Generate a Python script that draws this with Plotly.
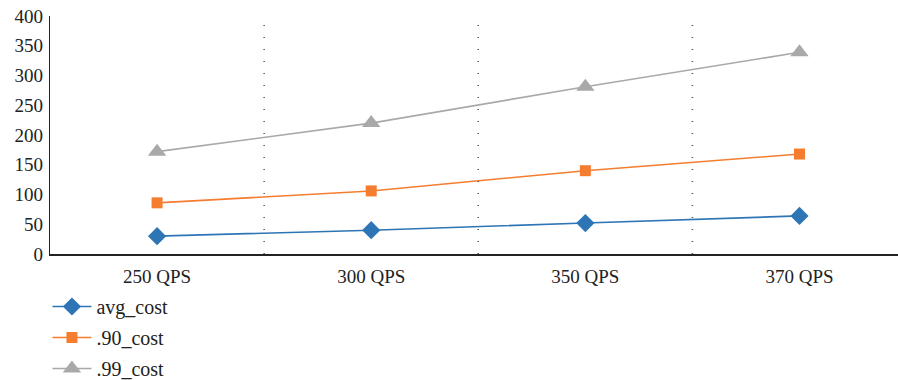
import plotly.graph_objects as go

categories = ["250 QPS", "300 QPS", "350 QPS", "370 QPS"]
avg_cost = [30, 40, 52, 64]
p90_cost = [86, 106, 140, 168]
p99_cost = [172, 220, 281, 339]
y_ticks = [0, 50, 100, 150, 200, 250, 300, 350, 400]

FONT = "'Liberation Serif', 'DejaVu Serif', serif"

series = [
    ("avg_cost", avg_cost, "#2E75B6", "diamond", 14),
    (".90_cost", p90_cost, "#F47D30", "square", 11),
    (".99_cost", p99_cost, "#A9A9A9", "triangle-up", 16),
]

fig = go.Figure()
for i, (name, vals, color, sym, size) in enumerate(series):
    fig.add_trace(go.Scatter(
        x=list(range(len(categories))), y=vals, name=name,
        mode="lines+markers",
        line=dict(color=color, width=1.6),
        marker=dict(symbol=sym, size=size, color=color),
        legendgroup=f"g{i}",
    ))

# dotted separators between categories
for k in range(len(categories) - 1):
    fig.add_shape(type="line", xref="x", yref="paper",
                  x0=k + 0.5, x1=k + 0.5, y0=0, y1=1,
                  line=dict(color="#555555", width=1.5, dash="1px,11px"))

fig.update_layout(
    width=898, height=380,
    margin=dict(l=50, r=0, t=16, b=126, autoexpand=False),
    plot_bgcolor="white", paper_bgcolor="white",
    font=dict(family=FONT, size=19, color="#222222"),
    showlegend=True,
    legend=dict(orientation="v", x=-0.003, y=(380 - 287) / 380, xanchor="left", yanchor="top",
                yref="container",
                font=dict(family=FONT, size=20, color="#222222"),
                tracegroupgap=2, itemwidth=39),
    xaxis=dict(
        tickmode="array", tickvals=list(range(len(categories))), ticktext=categories,
        range=[-0.5, 3.46], showgrid=False, zeroline=False,
        showline=True, linecolor="#222222", linewidth=1.5, ticks="",
        tickfont=dict(family=FONT, size=19), ticklabelstandoff=4,
    ),
    yaxis=dict(
        range=[0, 400], tickvals=y_ticks, showgrid=False, zeroline=False,
        showline=True, linecolor="#222222", linewidth=1.2, ticks="",
        tickfont=dict(family=FONT, size=19), ticklabelstandoff=2,
    ),
)

fig.write_html("out.html")
